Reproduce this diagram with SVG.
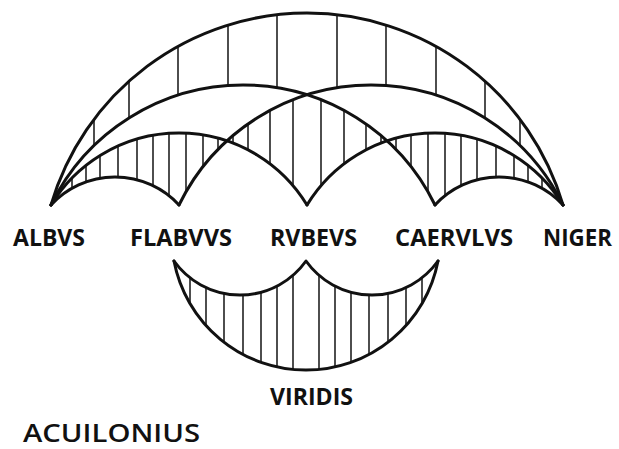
<svg xmlns="http://www.w3.org/2000/svg" width="619" height="449" viewBox="0 0 619 449">
<style>
.arc{fill:none;stroke:#111;stroke-width:3;stroke-linecap:round;stroke-linejoin:round}
.hatch{fill:none;stroke:#222;stroke-width:1.6}
.lbl{font-family:"Open Sans","Liberation Sans",sans-serif;font-weight:700;font-size:23px;fill:#111}
.title{font-family:"Open Sans","Liberation Sans",sans-serif;font-weight:600;font-size:25px;fill:#111}
</style>
<rect width="619" height="449" fill="#fff"/>
<g id="hatching" class="hatch">
<path d="M94,119.2V145.6M129,81.1V118M178,46.3V95.1M228,25V85.5M277,14.7V87.7M337,14.7V87.7M386,25V85.5M436,46.3V95.1M485,81.1V118M520,119.2V145.6"/>
<path d="M72,178V188.4M86,165.4V182M100,155.5V178.3M118,146V177.1M137,139V179.8M153,135.3V185.7M169,133.3V195.8M186,133.2V191.8M203,134.9V166.7M218,138.2V149.5M233,135.6V143.1M248,124V149.8M270,110.4V163.8M293,99.8V185.6"/>
<path d="M542,178V188.4M528,165.4V182M514,155.5V178.3M496,146V177.1M477,139V179.8M461,135.3V185.7M445,133.3V195.8M428,133.2V191.8M411,134.9V166.7M396,138.2V149.5M381,135.6V143.1M366,124V149.8M344,110.4V163.8M321,99.8V185.6"/>
<path d="M190,277.7V303.5M206,287.5V325.4M224,293.4V342.1M243,294.9V354.3M261,292.2V362.2M277,286.1V366.8M293,275.3V369.4M319,275.3V369.4M335,286.1V366.8M351,292.2V362.2M369,294.9V354.3M388,293.4V342.1M406,287.5V325.4M422,277.7V303.5"/>
</g>
<g id="connectors" class="arc">
<path d="M51,205A266.7,266.7 0 0 1 563,205"/>
<path d="M51,205A213.6,213.6 0 0 1 435,205"/>
<path d="M179,205A213.6,213.6 0 0 1 563,205"/>
<path d="M51,205A149.8,149.8 0 0 1 307,205"/>
<path d="M307,205A149.8,149.8 0 0 1 563,205"/>
<path d="M51,205A87.1,87.1 0 0 1 179,205"/>
<path d="M435,205A87.1,87.1 0 0 1 563,205"/>
<path d="M174,261A134.4,134.4 0 0 0 438,261"/>
<path d="M174,261A81,81 0 0 0 306,261A81,81 0 0 0 438,261"/>
</g>
<g id="albus"><text class="lbl" x="13" y="246" textLength="72" lengthAdjust="spacingAndGlyphs">ALBVS</text></g>
<g id="flavus"><text class="lbl" x="130" y="246" textLength="102" lengthAdjust="spacingAndGlyphs">FLABVVS</text></g>
<g id="rubeus"><text class="lbl" x="270" y="246" textLength="87" lengthAdjust="spacingAndGlyphs">RVBEVS</text></g>
<g id="caeruleus"><text class="lbl" x="395" y="246" textLength="118" lengthAdjust="spacingAndGlyphs">CAERVLVS</text></g>
<g id="niger"><text class="lbl" x="543" y="246" textLength="69" lengthAdjust="spacingAndGlyphs">NIGER</text></g>
<g id="viridis"><text class="lbl" x="270" y="405" textLength="83" lengthAdjust="spacingAndGlyphs">VIRIDIS</text></g>
<g id="aguilonius"><text class="title" x="23" y="442" textLength="177" lengthAdjust="spacingAndGlyphs">ACUILONIUS</text></g>
</svg>
